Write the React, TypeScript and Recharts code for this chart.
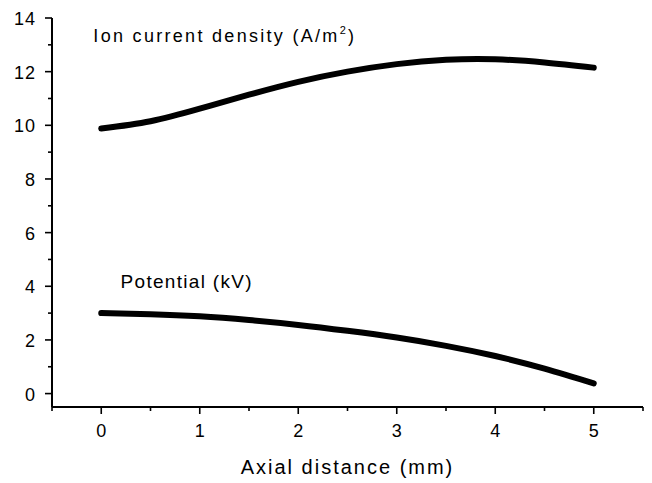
import { LineChart, Line, XAxis, YAxis, ReferenceDot } from "recharts";

// axial distance (mm)
const distance = [0, 0.5, 1, 1.5, 2, 2.5, 3, 3.5, 4, 4.5, 5];
// ion current density (A/m^2)
const ionCurrent = [9.88, 10.15, 10.62, 11.14, 11.62, 12.0, 12.28, 12.44, 12.46, 12.34, 12.15];
// potential (kV)
const potential = [3.0, 2.96, 2.88, 2.74, 2.56, 2.34, 2.09, 1.78, 1.4, 0.93, 0.38];

const xTicks = [-0.5, 0, 0.5, 1, 1.5, 2, 2.5, 3, 3.5, 4, 4.5, 5, 5.5];
const yTicks = [0, 1, 2, 3, 4, 5, 6, 7, 8, 9, 10, 11, 12, 13, 14];

const data = distance.map((d, i) => ({
  d,
  ion: ionCurrent[i],
  pot: potential[i],
}));

const FONT = "'Liberation Sans', Arial, Helvetica, sans-serif";
const INK = "#000";

const XTick = ({ x, y, payload }: any) => {
  const v = payload.value;
  const major = Number.isInteger(v) && v >= 0 && v <= 5;
  return (
    <g>
      <line x1={x} x2={x} y1={y} y2={y + (major ? 7 : 4)} stroke={INK} strokeWidth={1.6} />
      {major && (
        <text x={x} y={y + 30} textAnchor="middle" fontSize={18} fontFamily={FONT} fill={INK}>
          {v}
        </text>
      )}
    </g>
  );
};

const YTick = ({ x, y, payload }: any) => {
  const v = payload.value;
  const major = v % 2 === 0;
  return (
    <g>
      <line x1={x} x2={x - (major ? 7 : 4)} y1={y} y2={y} stroke={INK} strokeWidth={1.6} />
      {major && (
        <text x={x - 16} y={y + 7} textAnchor="end" fontSize={18} letterSpacing={1} fontFamily={FONT} fill={INK}>
          {v}
        </text>
      )}
    </g>
  );
};

const IonLabel = ({ viewBox }: any) => (
  <text x={viewBox.x} y={viewBox.y} fontSize={18} letterSpacing={2.3} fontFamily={FONT} fill={INK}>
    Ion current density (A/m
    <tspan fontSize={11} dy={-8}>2</tspan>
    <tspan dy={8}>)</tspan>
  </text>
);

const PotLabel = ({ viewBox }: any) => (
  <text x={viewBox.x} y={viewBox.y} fontSize={19} letterSpacing={1.3} fontFamily={FONT} fill={INK}>
    Potential (kV)
  </text>
);

export default function App() {
  return (
    <LineChart
      width={644}
      height={475}
      data={data}
      margin={{ top: 10, right: 9, left: 4, bottom: 16 }}
      style={{ background: "#fff" }}
    >
      <XAxis
        dataKey="d"
        type="number"
        domain={[-0.5, 5.5]}
        ticks={xTicks}
        interval={0}
        height={60}
        tickSize={0}
        tickMargin={0}
        tick={<XTick />}
        axisLine={{ stroke: INK, strokeWidth: 2 }}
        label={{
          value: "Axial distance (mm)",
          position: "insideBottom",
          offset: -7,
          fontSize: 20,
          fontFamily: FONT,
          fill: INK,
          letterSpacing: 2,
        }}
      />
      <YAxis
        type="number"
        domain={[-0.5, 14]}
        ticks={yTicks}
        interval={0}
        width={40}
        tickSize={0}
        tickMargin={0}
        tick={<YTick />}
        axisLine={{ stroke: INK, strokeWidth: 2 }}
        allowDataOverflow
      />
      <Line
        dataKey="ion"
        type="natural"
        stroke="#000"
        strokeWidth={6}
        strokeLinecap="round"
        dot={false}
        activeDot={false}
        isAnimationActive={false}
      />
      <Line
        dataKey="pot"
        type="natural"
        stroke="#000"
        strokeWidth={6}
        strokeLinecap="round"
        dot={false}
        activeDot={false}
        isAnimationActive={false}
      />
      <ReferenceDot x={-0.08} y={13.1} r={0} fill="none" stroke="none" label={<IonLabel />} />
      <ReferenceDot x={0.196} y={3.93} r={0} fill="none" stroke="none" label={<PotLabel />} />
    </LineChart>
  );
}
